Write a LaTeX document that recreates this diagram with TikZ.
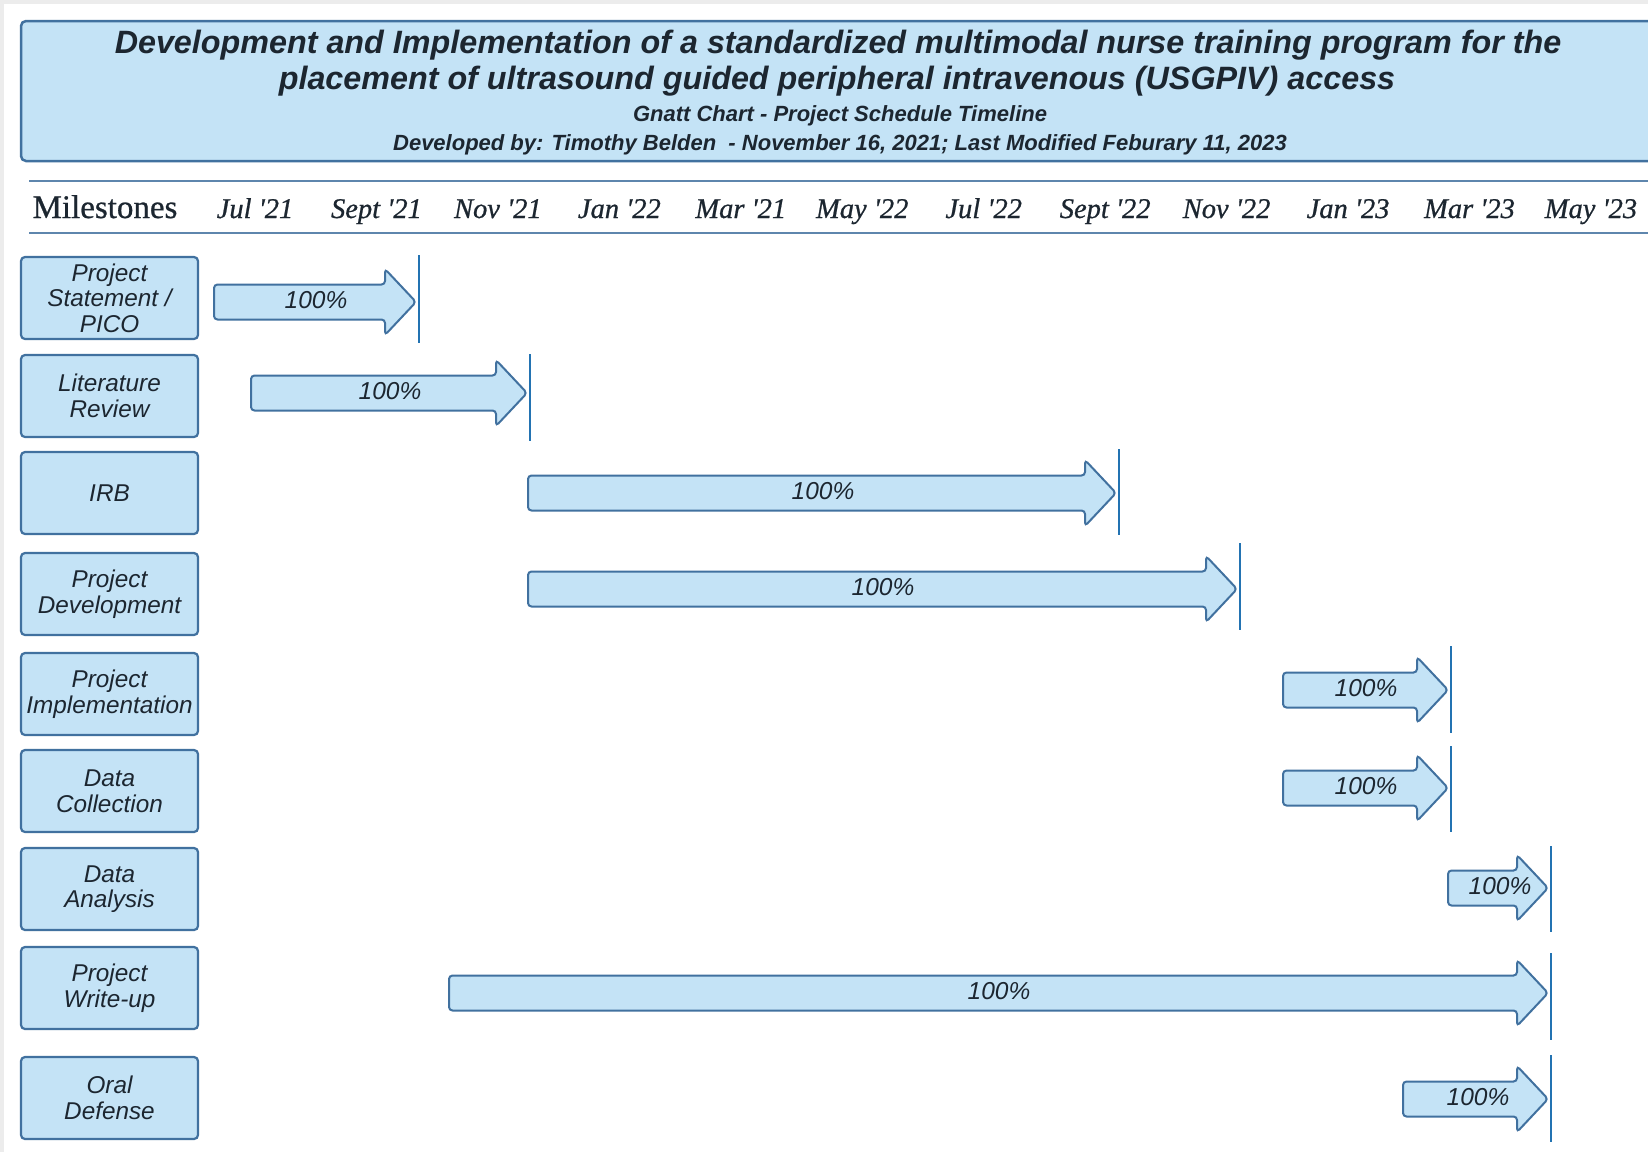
\documentclass[tikz,border=0pt]{standalone}
\usepackage{fontspec}
\setmainfont{Liberation Sans}
\newfontfamily\hdrfont[FakeBold=0.7]{Liberation Serif}
\definecolor{barfill}{HTML}{C4E3F6}
\definecolor{barline}{HTML}{41719F}
\definecolor{endblue}{HTML}{2373B2}
\definecolor{inkdark}{HTML}{1C2630}
\definecolor{pagegrey}{HTML}{ECECEC}

\tikzset{
  titlebox/.style={fill=barfill, draw=barline, line width=2.5pt, rounded corners=5pt},
  rule/.style={draw=barline!85, line width=2.5pt},
  milebox/.style={draw=barline, line width=2.2pt, fill=barfill, rounded corners=4pt,
    minimum width=177pt, minimum height=82pt, align=center, text=inkdark,
    font=\fontsize{24.3}{25.5}\selectfont\itshape, inner sep=0pt},
  ganttbar/.style={draw=barline, line width=2pt, fill=barfill, rounded corners=3.5pt},
  pct/.style={text=inkdark, font=\fontsize{24.5}{26}\selectfont\itshape, inner sep=0pt},
  endmark/.style={draw=endblue, line width=2.6pt},
  monthlbl/.style={text=inkdark, font=\hdrfont\fontsize{28.5}{32}\selectfont\itshape,
    inner sep=0pt, anchor=base},
  titleline/.style={text=inkdark, font=\fontsize{32.3}{36}\selectfont\bfseries\itshape, inner sep=0pt},
  subline/.style={text=inkdark, font=\fontsize{22}{24}\selectfont\bfseries\itshape, inner sep=0pt},
}

% one schedule bar: name, left x, centre y, tip x, label x, marker top y, marker bottom y
\newcommand\ganttbar[7]{%
  \draw[ganttbar] (#2,#3-17.5) -- (#4-31,#3-17.5) -- (#4-31,#3-33) -- (#4,#3)
     -- (#4-31,#3+33) -- (#4-31,#3+17.5) -- (#2,#3+17.5) -- cycle;
  \node[pct] (#1) at (#5,#3-2) {100\%};
  \coordinate (#1-top) at (#4+3,#6);
  \coordinate (#1-bot) at (#4+3,#7);
  \draw[endmark] (#1-top) -- (#1-bot);
}

\begin{document}
\begin{tikzpicture}[x=1pt,y=-1pt]
\useasboundingbox (0,0) rectangle (1648,1152);
\fill[pagegrey] (0,0) rectangle (1648,1152);
\fill[white] (4,4) rectangle (1648,1152);

% title banner
\draw[titlebox] (21,21) rectangle (1670,161);
\node[titleline] (t1) at (838,45.5) {Development and Implementation of a standardized multimodal nurse training program for the};
\node[titleline] (t2) at (837,81.5) {placement of ultrasound guided peripheral intravenous (USGPIV) access};
\node[subline] (t3) at (840,116) {Gnatt Chart - Project Schedule Timeline};
\node[subline] (t4) at (840,144.5) {Developed by: Timothy Belden \ - November 16, 2021; Last Modified Feburary 11, 2023};

% header row
\draw[rule] (29,181) -- (1648,181);
\draw[rule] (29,233) -- (1648,233);
\node[text=inkdark, font=\hdrfont\fontsize{33}{36}\selectfont, inner sep=0pt, anchor=base] (ms) at (105,218) {Milestones};
\foreach \lbl [count=\i from 0] in {Jul '21, Sept '21, Nov '21, Jan '22, Mar '21, May '22, Jul '22, Sept '22, Nov '22, Jan '23, Mar '23, May '23}
  \node[monthlbl] (m\i) at (255+121.45*\i,218) {\lbl};

% milestone labels
\node[milebox] (pico) at (109.5,298) {Project\\Statement /\\PICO};
\node[milebox] (lit)  at (109.5,396) {Literature\\Review};
\node[milebox] (irb)  at (109.5,493) {IRB};
\node[milebox] (dev)  at (109.5,594) {Project\\Development};
\node[milebox] (impl) at (109.5,694) {Project\\Implementation};
\node[milebox] (coll) at (109.5,791) {Data\\Collection};
\node[milebox] (anal) at (109.5,889) {Data\\Analysis};
\node[milebox] (writ) at (109.5,988) {Project\\Write-up};
\node[milebox] (oral) at (109.5,1098) {Oral\\Defense};

% schedule bars
\ganttbar{bpico}{214}{302}{416}{316}{255}{343}
\ganttbar{blit}{251}{393}{527}{390}{354}{441}
\ganttbar{birb}{528}{493}{1116}{823}{449}{535}
\ganttbar{bdev}{528}{589}{1237}{883}{543}{630}
\ganttbar{bimpl}{1283}{690}{1448}{1366}{646}{733}
\ganttbar{bcoll}{1283}{788}{1448}{1366}{746}{832}
\ganttbar{banal}{1448}{888}{1548}{1500}{846}{932}
\ganttbar{bwrit}{449}{993}{1548}{999}{953}{1040}
\ganttbar{boral}{1403}{1099}{1548}{1478}{1055}{1142}
\end{tikzpicture}
\end{document}
